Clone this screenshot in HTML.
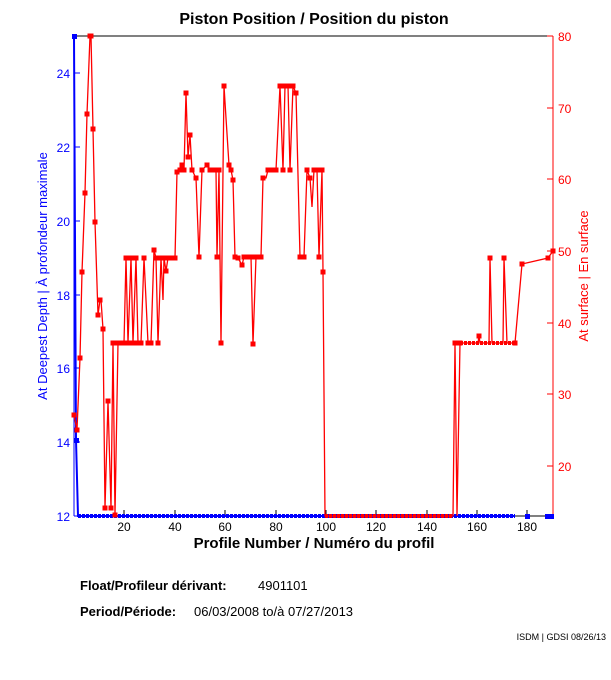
<!DOCTYPE html>
<html><head><style>
body{margin:0;background:#fff;}
svg text{font-family:"Liberation Sans",Arial,sans-serif;}
</style></head><body>
<svg width="611" height="675" viewBox="0 0 611 675" xmlns="http://www.w3.org/2000/svg">
<rect width="611" height="675" fill="#fff"/>
<text x="314" y="24" font-size="16" font-weight="bold" text-anchor="middle">Piston Position / Position du piston</text>
<line x1="74" y1="36" x2="553" y2="36" stroke="#000"/>
<line x1="74" y1="516" x2="553" y2="516" stroke="#000"/>
<g stroke="#000">
<line x1="124" y1="516" x2="124" y2="510"/><line x1="175" y1="516" x2="175" y2="510"/><line x1="225" y1="516" x2="225" y2="510"/><line x1="276" y1="516" x2="276" y2="510"/><line x1="326" y1="516" x2="326" y2="510"/><line x1="376" y1="516" x2="376" y2="510"/><line x1="427" y1="516" x2="427" y2="510"/><line x1="477" y1="516" x2="477" y2="510"/><line x1="527" y1="516" x2="527" y2="510"/>
</g>
<g font-size="12" text-anchor="middle">
<text x="124" y="531">20</text><text x="175" y="531">40</text><text x="225" y="531">60</text><text x="276" y="531">80</text><text x="326" y="531">100</text><text x="376" y="531">120</text><text x="427" y="531">140</text><text x="477" y="531">160</text><text x="527" y="531">180</text>
</g>
<text x="314" y="548" font-size="15" font-weight="bold" text-anchor="middle">Profile Number / Numéro du profil</text>
<line x1="74" y1="36" x2="74" y2="516" stroke="#00f"/>
<g stroke="#00f">
<line x1="74" y1="73" x2="80" y2="73"/><line x1="74" y1="147" x2="80" y2="147"/><line x1="74" y1="221" x2="80" y2="221"/><line x1="74" y1="295" x2="80" y2="295"/><line x1="74" y1="368" x2="80" y2="368"/><line x1="74" y1="442" x2="80" y2="442"/><line x1="74" y1="516" x2="80" y2="516"/>
</g>
<g font-size="12" fill="#00f" text-anchor="end">
<text x="70" y="78">24</text><text x="70" y="152">22</text><text x="70" y="226">20</text><text x="70" y="300">18</text><text x="70" y="373">16</text><text x="70" y="447">14</text><text x="70" y="521">12</text>
</g>
<text transform="translate(47,276) rotate(-90)" font-size="13" fill="#00f" text-anchor="middle">At Deepest Depth | À profondeur maximale</text>
<line x1="553" y1="36" x2="553" y2="516" stroke="#f00"/>
<g stroke="#f00">
<line x1="547" y1="36" x2="553" y2="36"/><line x1="547" y1="108" x2="553" y2="108"/><line x1="547" y1="179" x2="553" y2="179"/><line x1="547" y1="251" x2="553" y2="251"/><line x1="547" y1="323" x2="553" y2="323"/><line x1="547" y1="394" x2="553" y2="394"/><line x1="547" y1="466" x2="553" y2="466"/>
</g>
<g font-size="12" fill="#f00">
<text x="558" y="41">80</text><text x="558" y="113">70</text><text x="558" y="184">60</text><text x="558" y="256">50</text><text x="558" y="328">40</text><text x="558" y="399">30</text><text x="558" y="471">20</text>
</g>
<text transform="translate(588,276) rotate(-90)" font-size="13" fill="#f00" text-anchor="middle">At surface | En surface</text>
<polyline fill="none" stroke="#00f" stroke-width="2" points="74,36 76,440 78,516 515,516"/>
<line x1="78" y1="516" x2="515" y2="516" stroke="#00f" stroke-width="4" stroke-dasharray="3,1"/>
<g fill="#00f"><rect x="72" y="34" width="5" height="5"/><rect x="74" y="438" width="5" height="5"/><rect x="525" y="514" width="5" height="5"/><rect x="545" y="514" width="9" height="5"/></g>
<polyline fill="none" stroke="#f00" stroke-width="1.3" points="74,415 77,430 80,358 82,272 85,193 87,114 90,36 91,36 93,129 95,222 98,315 100,300 101,300 103,329 105,508 108,401 111,508 113,343 115,515 118,343 124,343 126,258 128,343 131,258 133,343 136,258 138,343 141,343 144,258 146,300 148,343 151,343 154,250 156,258 158,343 161,258 163,300 164,258 166,271 168,258 175,258 177,172 180,170 182,165 184,170 186,93 188,157 190,135 192,170 196,178 199,257 202,170 207,165 210,170 216,170 217,257 219,170 221,343 224,86 226,118 229,165 231,170 233,180 235,257 238,258 242,265 244,257 251,257 253,344 256,257 261,257 263,178 266,178 268,170 273,170 276,170 280,86 283,170 285,86 288,86 290,170 293,86 296,93 300,257 304,257 307,170 310,178 312,207 314,170 317,170 319,257 322,170 323,272 325,516 453,516 455,343 457,516 460,343 478,343 479,336 480,343 489,343 490,258 492,343 503,343 504,258 507,343 515,343 522,264 548,258 553,251"/>
<g fill="none" stroke="#f00" stroke-width="5" stroke-linecap="square">
<path d="M74,415h0M77,430h0M80,358h0M82,272h0M85,193h0M87,114h0M90,36h0M91,36h0M93,129h0M95,222h0M98,315h0M100,300h0M103,329h0M105,508h0M108,401h0M111,508h0M113,343h0M115,515h0M118,343h0M121,343h0M124,343h0M126,258h0M128,343h0M131,258h0M133,343h0M136,258h0M138,343h0M141,343h0M144,258h0M148,343h0M151,343h0M154,250h0M156,258h0M158,343h0M161,258h0M164,258h0M166,271h0M168,258h0M171,258h0M175,258h0M177,172h0M180,170h0M182,165h0M184,170h0M186,93h0M188,157h0M190,135h0M192,170h0M196,178h0M199,257h0M202,170h0M207,165h0M210,170h0M213,170h0M216,170h0M217,257h0M219,170h0M221,343h0M224,86h0M229,165h0M231,170h0M233,180h0M235,257h0M238,258h0M242,265h0M244,257h0M248,257h0M251,257h0M253,344h0M256,257h0M261,257h0M263,178h0M268,170h0M273,170h0M276,170h0M280,86h0M283,170h0M285,86h0M288,86h0M290,170h0M293,86h0M296,93h0M300,257h0M304,257h0M307,170h0M310,178h0M314,170h0M317,170h0M319,257h0M322,170h0M323,272h0M455,343h0M460,343h0M479,336h0M490,258h0M504,258h0M515,343h0M522,264h0M548,258h0M553,251h0"/>
</g>
<line x1="325" y1="516" x2="453" y2="516" stroke="#f00" stroke-width="4" stroke-dasharray="3,1"/>
<line x1="460" y1="343" x2="515" y2="343" stroke="#f00" stroke-width="4" stroke-dasharray="3,1"/>
<text x="80" y="590" font-size="13" font-weight="bold">Float/Profileur dérivant:</text>
<text x="258" y="590" font-size="13">4901101</text>
<text x="80" y="616" font-size="13" font-weight="bold">Period/Période:</text>
<text x="194" y="616" font-size="13">06/03/2008  to/à  07/27/2013</text>
<text x="606" y="640" font-size="9" text-anchor="end">ISDM | GDSI 08/26/13</text>
</svg>
</body></html>
